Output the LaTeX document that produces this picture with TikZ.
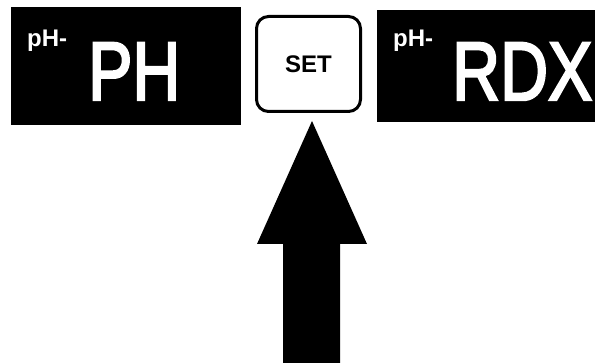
\documentclass[tikz,border=0pt]{standalone}
\usepackage{fontspec}
\setmainfont{Liberation Sans}
\newfontfamily\displayfont[FakeBold=3]{Liberation Sans}
\begin{document}
\begin{tikzpicture}[x=1pt,y=-1pt,
  panel/.style={fill=black, inner sep=0pt, anchor=north west},
  bigtext/.style={text=white, inner sep=0pt, anchor=base west,
    font=\displayfont\fontsize{83}{83}\selectfont, xscale=0.8},
  smalltext/.style={text=white, inner sep=0pt, anchor=base west,
    font=\bfseries\fontsize{24}{24}\selectfont},
  button/.style={draw=black, line width=3pt, rounded corners=12pt,
    minimum width=104pt, minimum height=95pt, inner sep=0pt,
    font=\bfseries\fontsize{24}{24}\selectfont}]
\useasboundingbox (0,0) rectangle (595,363);

% display panels
\node[panel, minimum width=230pt, minimum height=118pt] (leftpanel) at (11,7) {};
\node[panel, minimum width=218pt, minimum height=112pt] (rightpanel) at (377,10) {};

\node[smalltext] (lsmall) at (27,47) {pH-};
\node[bigtext] (lbig) at (88,100) {PH};
\node[smalltext] (rsmall) at (393,47) {pH-};
\node[bigtext] (rbig) at (452,100) {RDX};

% SET key
\node[button] (set) at (308.5,64) {SET};

% pointer arrow pressing the key
\coordinate (tip) at ([shift={(3.5,8)}]set.south);
\fill[black] (tip) -- ++(55,123) -- ++(-27,0) -- ++(0,125) -- ++(-57,0)
  -- ++(0,-125) -- ++(-26,0) -- cycle;
\end{tikzpicture}
\end{document}
